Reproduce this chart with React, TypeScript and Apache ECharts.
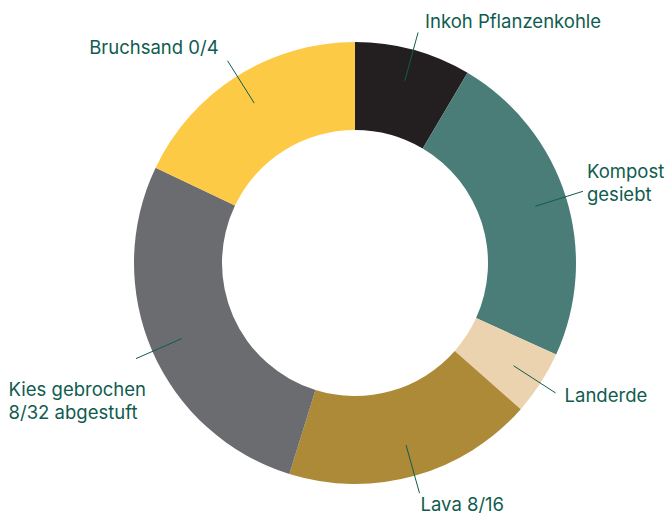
import React, { useEffect, useRef } from "react";
import * as echarts from "echarts";

const categories = [
  "Inkoh Pflanzenkohle",
  "Kompost\ngesiebt",
  "Landerde",
  "Lava 8/16",
  "Kies gebrochen\n8/32 abgestuft",
  "Bruchsand 0/4",
];
const values = [8.5, 23.3, 4.7, 18.3, 27.3, 17.9];
const colors = ["#231f20", "#4a7d77", "#ecd3b0", "#ad8a38", "#6b6c70", "#fdca46"];

// vertical spacer (px) above (+) or below (-) each label, and gap to the leader line end
const labelShift = [-23, -18, 4, 22, 84, -28];
const labelDistance = [7, 4, 9, 1, -10, 9];

const TEXT = "#0f5c4f";

function fmt(name: string, shift: number) {
  const lines = name.split("\n").map((l) => `{t|${l}}`).join("\n");
  if (shift > 0) return `{sp${Math.abs(shift)}|}\n` + lines;
  if (shift < 0) return lines + `\n{sp${Math.abs(shift)}|}`;
  return lines;
}

export default function App() {
  const ref = useRef<HTMLDivElement>(null);
  useEffect(() => {
    if (!ref.current) return;
    const chart = echarts.init(ref.current, undefined, { renderer: "svg" });
    const center = [355, 263];
    const rich: Record<string, any> = {
      t: { color: TEXT, fontFamily: "Inter", fontSize: 18.5, lineHeight: 23, align: "left" },
    };
    labelShift.forEach((s) => {
      const a = Math.abs(s);
      if (a) rich["sp" + a] = { height: a, lineHeight: a, fontSize: 1 };
    });
    chart.setOption({
      animation: false,
      backgroundColor: "#ffffff",
      series: [
        {
          type: "pie",
          center,
          radius: [133, 221],
          startAngle: 90,
          clockwise: true,
          silent: true,
          label: { show: false },
          labelLine: { show: false },
          itemStyle: { borderWidth: 0 },
          data: categories.map((c, i) => ({
            name: c,
            value: values[i],
            itemStyle: { color: colors[i] },
          })),
          z: 1,
        },
        {
          type: "pie",
          center,
          radius: [0, 189],
          startAngle: 90,
          clockwise: true,
          silent: true,
          itemStyle: { color: "rgba(0,0,0,0)", borderWidth: 0 },
          label: {
            show: true,
            position: "outside",
            color: TEXT,
            fontFamily: "Inter",
            fontSize: 18.5,
            bleedMargin: 0,
            rich,
          },
          labelLine: {
            show: true,
            length: 50,
            length2: 0,
            smooth: false,
            lineStyle: { color: TEXT, width: 1 },
          },
          data: categories.map((c, i) => ({
            name: c,
            value: values[i],
            label: {
              formatter: fmt(c, labelShift[i]),
              distanceToLabelLine: labelDistance[i],
            },
          })),
          z: 2,
        },
      ],
    });
    return () => chart.dispose();
  }, []);
  return (
    <div
      style={{ position: "fixed", left: 0, top: 0, width: 665, height: 515, overflow: "hidden", background: "#fff" }}
    >
      <div ref={ref} style={{ width: 665, height: 600 }} />
    </div>
  );
}
